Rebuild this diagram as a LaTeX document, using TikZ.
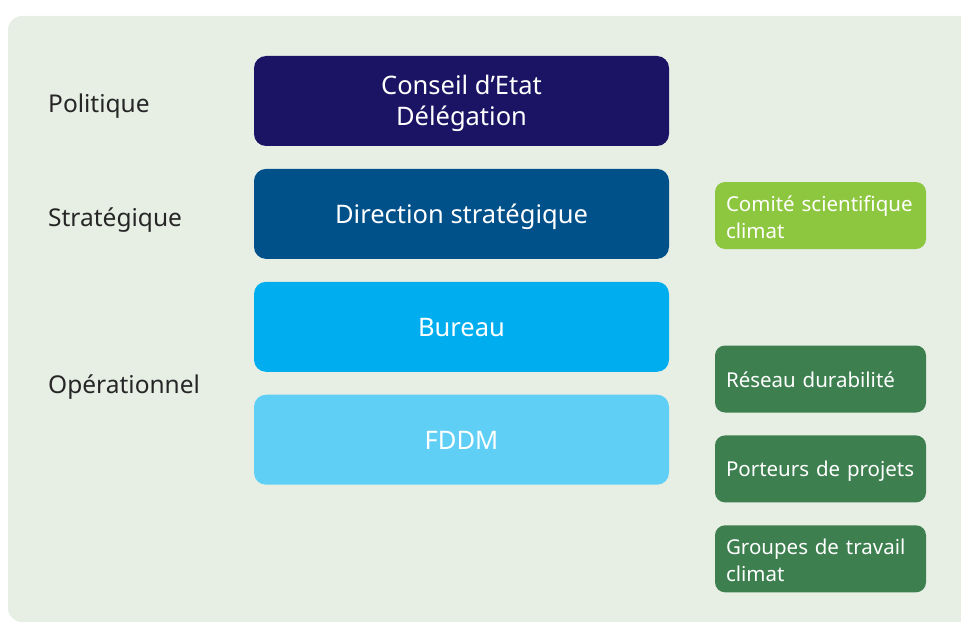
\documentclass[tikz,border=0pt]{standalone}
\usepackage{fontspec}
\setmainfont{Noto Sans}
\usepackage{tikz}
\usetikzlibrary{positioning}
\definecolor{fond}{HTML}{E7EFE5}
\definecolor{politique}{HTML}{1B1464}
\definecolor{strategique}{HTML}{00508A}
\definecolor{bureau}{HTML}{00AEEF}
\definecolor{fddm}{HTML}{5FCFF5}
\definecolor{comite}{HTML}{8DC63F}
\definecolor{reseau}{HTML}{3D7F4F}
\tikzstyle{level} = [rectangle, rounded corners=12pt, minimum width=415pt, minimum height=90pt, text centered, align=center, text=white, text height=23.5pt, text depth=4pt, font=\fontsize{25.5}{32}\selectfont]
\tikzstyle{side} = [rectangle, rounded corners=10pt, minimum width=211pt, minimum height=67pt, text width=189pt, align=left, text=white, text height=20pt, text depth=4pt, font=\fontsize{20.5}{27}\selectfont]
\tikzstyle{twolines} = [text height=19.5pt, text depth=28.5pt]
\tikzstyle{tier} = [anchor=west, inner sep=0pt, text=black!85, font=\fontsize{24.5}{28}\selectfont]

\begin{document}
\begin{tikzpicture}[x=1pt, y=-1pt, node distance=22.5pt]
    \useasboundingbox (0,0) rectangle (961,623);
    \clip (0,0) rectangle (961,623);
    \fill[fond, rounded corners=14pt] (8,16) rectangle (1000,622);

    \node[level, fill=politique, text height=56pt, text depth=6pt] (conseil) at (461.5,101) {Conseil d’Etat\\Délégation};
    \node[level, fill=strategique, below=of conseil] (direction) {Direction stratégique};
    \node[level, fill=bureau, below=of direction] (bureau) {Bureau};
    \node[level, fill=fddm, below=of bureau] (fddm) {FDDM};

    \node[side, twolines, fill=comite] (comite) at (820.5,215.5) {Comité scientifique\\climat};
    \node[side, fill=reseau] (reseau) at (820.5,379) {Réseau durabilité};
    \node[side, fill=reseau, below=of reseau] (porteurs) {Porteurs de projets};
    \node[side, twolines, fill=reseau, below=of porteurs] (groupes) {Groupes de travail\\climat};

    \node[tier] (politique) at (48,106) {Politique};
    \node[tier] (strat) at (48,220) {Stratégique};
    \node[tier] (oper) at (48,387) {Opérationnel};
\end{tikzpicture}
\end{document}
